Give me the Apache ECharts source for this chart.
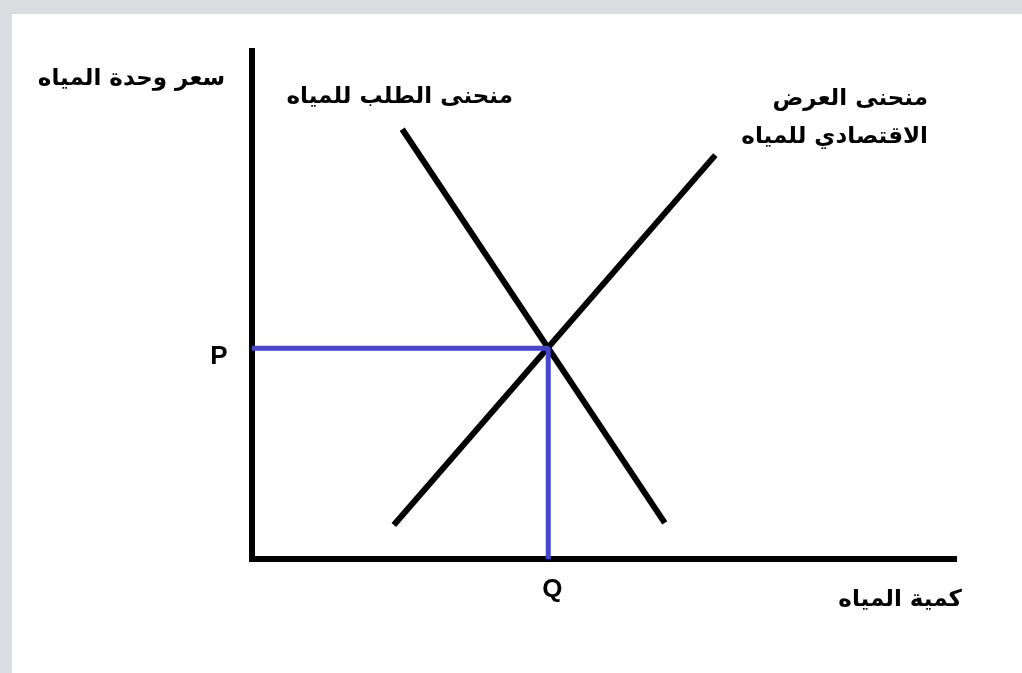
<!DOCTYPE html>
<html>
<head>
<meta charset="utf-8">
<script src="https://cdn.jsdelivr.net/npm/echarts@6/dist/echarts.min.js"></script>
<style>
html, body { margin: 0; padding: 0; background: #dcdde0; }
#mainCanvas { position: absolute; left: 12px; top: 14px; width: 1010px; height: 659px; background: #ffffff; }
</style>
</head>
<body>
<div id="mainCanvas"></div>
<script>
// curve points (quantity, price) on a 0..10 scale
var demandCurve = [[2.14, 8.46], [5.88, 0.71]];
var supplyCurve = [[2.02, 0.67], [6.60, 7.95]];
var equilibrium = [4.22, 4.15];
var priceLabel = 'P';
var qtyLabel = 'Q';
var yTitle = 'سعر وحدة المياه';
var xTitle = 'كمية المياه';
var demandTitle = 'منحنى الطلب للمياه';
var supplyTitle = ['منحنى العرض', 'الاقتصادي للمياه'];

var arFont = 'bold 23px "DejaVu Sans"';
var blue = '#4646cc';

var myChart = echarts.init(document.getElementById('mainCanvas'));

var guide = [
    { value: [0, equilibrium[1]], label: { show: true, formatter: priceLabel, position: 'left', distance: 24, offset: [0, 9] } },
    { value: equilibrium },
    { value: [equilibrium[0], 0], label: { show: true, formatter: qtyLabel, position: 'bottom', distance: 17, offset: [4, 0] } }
];

function axis() {
    return {
        type: 'value',
        min: 0,
        max: 10,
        axisLine: { show: true, lineStyle: { color: '#000', width: 6, cap: 'square' } },
        axisTick: { show: false },
        axisLabel: { show: false },
        splitLine: { show: false }
    };
}

function text(x, y, s) {
    return { type: 'text', x: x, y: y, style: { text: s, font: arFont, fill: '#000', textAlign: 'right', textVerticalAlign: 'middle' } };
}

var option = {
    animation: false,
    grid: { left: 240, top: 37, right: 68, bottom: 114 },
    xAxis: axis(),
    yAxis: axis(),
    graphic: [
        text(213, 65, yTitle),
        text(950, 586, xTitle),
        text(501, 83, demandTitle),
        text(916, 85, supplyTitle[0]),
        text(916, 123, supplyTitle[1])
    ],
    series: [
        {
            name: 'demand',
            type: 'line',
            data: demandCurve,
            symbol: 'none',
            lineStyle: { color: '#000', width: 6 }
        },
        {
            name: 'supply',
            type: 'line',
            data: supplyCurve,
            symbol: 'none',
            lineStyle: { color: '#000', width: 6 }
        },
        {
            name: 'guide',
            type: 'line',
            data: guide,
            symbol: 'circle',
            symbolSize: 1,
            showSymbol: true,
            itemStyle: { color: blue },
            z: 3,
            lineStyle: { color: blue, width: 5 },
            label: { color: '#000', fontFamily: '"Liberation Sans"', fontWeight: 'bold', fontSize: 26 }
        }
    ]
};

myChart.setOption(option);
</script>
</body>
</html>
